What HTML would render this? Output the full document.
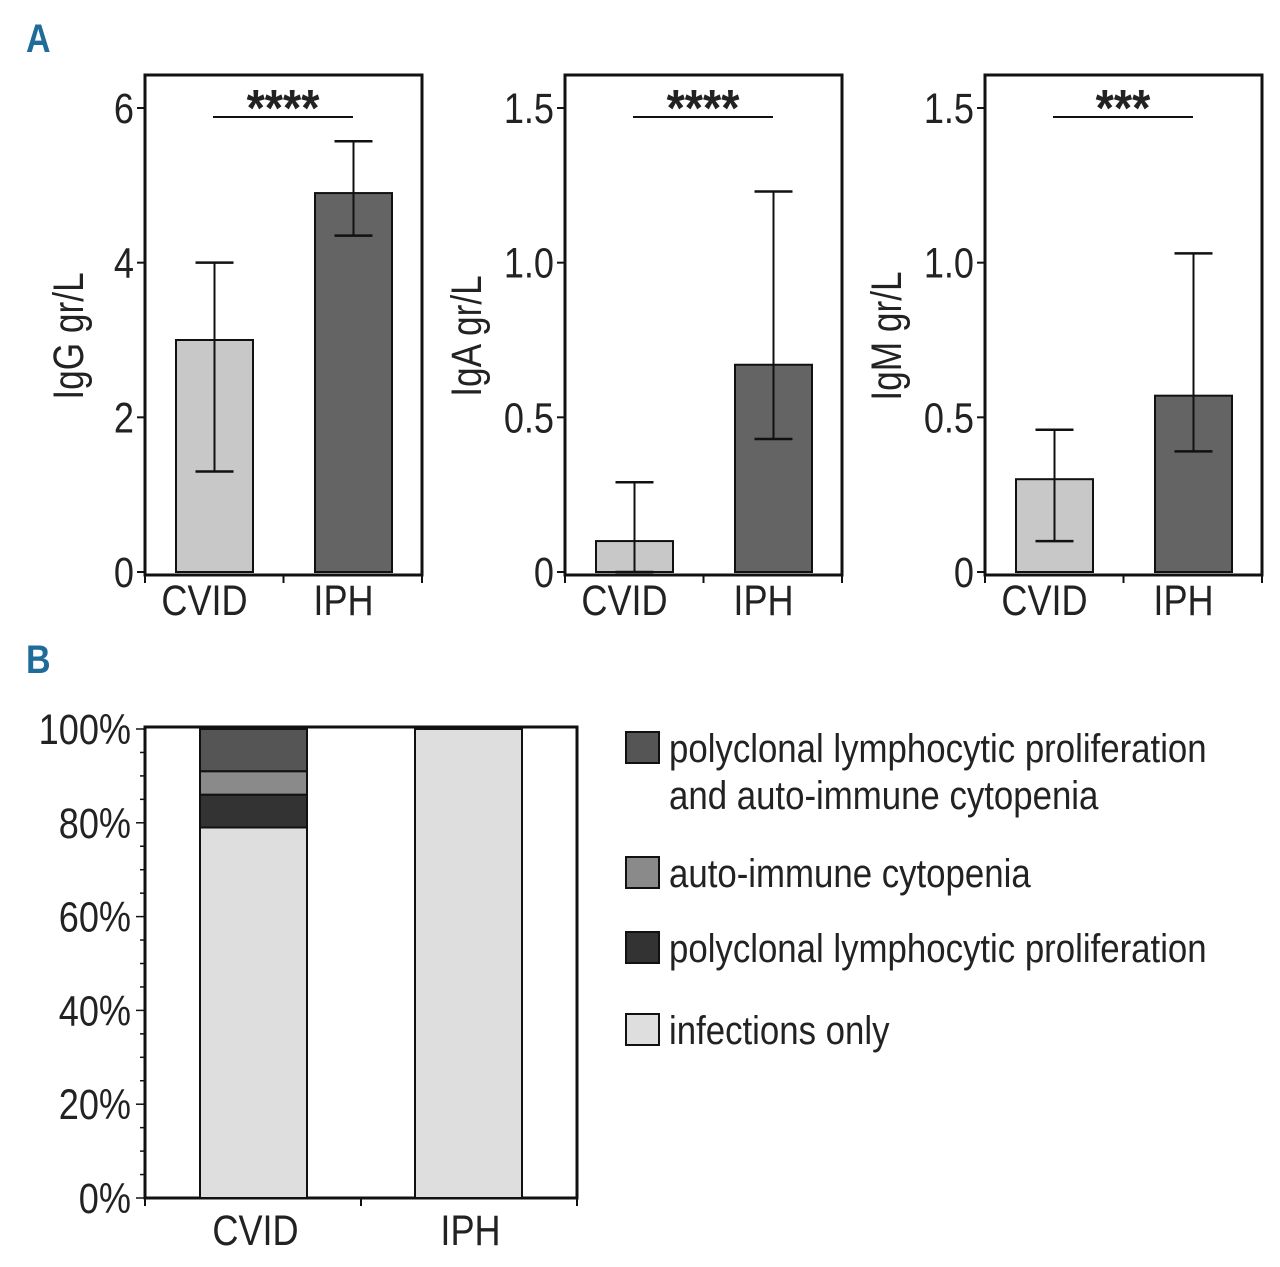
<!DOCTYPE html>
<html><head><meta charset="utf-8"><style>
body{margin:0;background:#fff}
svg text{font-family:"Liberation Sans",sans-serif;fill:#222}
</style></head><body>
<svg id="c" width="1280" height="1262" xmlns="http://www.w3.org/2000/svg">
<text transform="translate(26,52) scale(0.85,1)" font-size="40" font-weight="bold" style="fill:#1f6c9a">A</text>
<text transform="translate(26,673) scale(0.85,1)" font-size="40" font-weight="bold" style="fill:#1f6c9a">B</text>
</svg>
<script>
const groups = ["CVID","IPH"];
const iggVals = [3.0, 4.9], iggLo = [1.3, 4.35], iggHi = [4.0, 5.57];
const igaVals = [0.1, 0.67], igaLo = [0.0, 0.43], igaHi = [0.29, 1.23];
const igmVals = [0.3, 0.57], igmLo = [0.1, 0.39], igmHi = [0.46, 1.03];
const iggTicks = ["0","2","4","6"], iggTickVals=[0,2,4,6];
const igTicks = ["0","0.5","1.0","1.5"], igTickVals=[0,0.5,1.0,1.5];
const sigLabels = ["****","****","***"];
const stackCats = ["infections only","polyclonal lymphocytic proliferation","auto-immune cytopenia","polyclonal lymphocytic proliferation and auto-immune cytopenia"];
const cvidStack = [79, 7, 5, 9];
const iphStack = [100, 0, 0, 0];
const pctTicks = [0,20,40,60,80,100];

const svg=document.getElementById('c');
const NS="http://www.w3.org/2000/svg";
function mk(tag,attrs,parent){const e=document.createElementNS(NS,tag);for(const k in attrs)e.setAttribute(k,attrs[k]);(parent||svg).appendChild(e);return e;}
function txt(x,y,s,size,anchor,parent,rot,sx){
  const t=mk('text',{transform:`translate(${x},${y})${rot?' rotate(-90)':''} scale(${sx||0.84},1)`,'font-size':size,'text-anchor':anchor||'start'},parent);
  t.textContent=s;return t;
}

function panel(x0,name,ylabel,ymax,vals,lo,hi,tickLabels,tickVals,sig,titleOff){
  const g=mk('g',{});
  
  
  const x1=x0+277, yTop=75, y0=572, yMaxPx=108;
  const Y=v=>y0-(v/ymax)*(y0-yMaxPx);
  const box=mk('rect',{x:x0,y:yTop,width:x1-x0,height:575-yTop,fill:'none',stroke:'#111','stroke-width':3},g);
  
  
  tickVals.forEach((v,i)=>{
    mk('line',{x1:x0-8,x2:x0,y1:Y(v),y2:Y(v),stroke:'#111','stroke-width':2},g);
    const t=txt(x0-11,Y(v)+15,tickLabels[i],43,'end',g);
    
    
  });
  [x0,x0+(x1-x0)/2,x1].forEach(x=>mk('line',{x1:x,x2:x,y1:575,y2:583,stroke:'#111','stroke-width':2},g));
  const yl=txt(x0-titleOff,336,ylabel,43,'middle',g,true,0.82);
  
  
  const fills=['#c8c8c8','#646464'];
  vals.forEach((v,i)=>{
    const bx=x0+31+i*139, bw=77, cx=bx+bw/2;
    const r=mk('rect',{x:bx,y:Y(v),width:bw,height:y0-Y(v),fill:fills[i],stroke:'#111','stroke-width':2},g);
    
    
    mk('line',{x1:cx,x2:cx,y1:Y(hi[i]),y2:Y(lo[i]),stroke:'#111','stroke-width':2},g);
    mk('line',{x1:cx-19,x2:cx+19,y1:Y(hi[i]),y2:Y(hi[i]),stroke:'#111','stroke-width':2.5},g);
    mk('line',{x1:cx-19,x2:cx+19,y1:Y(lo[i]),y2:Y(lo[i]),stroke:'#111','stroke-width':2.5},g);
    const t=txt(cx-10,615,groups[i],43,'middle',g);
    
    
  });
  mk('line',{x1:x0+68,x2:x0+208,y1:117,y2:117,stroke:'#111','stroke-width':2},g);
  const s=txt(x0+138,126,sig,52,'middle',g,false,0.9);
  s.setAttribute('font-weight','bold');
  
  
}
panel(145,'igg-chart','IgG gr/L',6,iggVals,iggLo,iggHi,iggTicks,iggTickVals,sigLabels[0],62);
panel(565,'iga-chart','IgA gr/L',1.5,igaVals,igaLo,igaHi,igTicks,igTickVals,sigLabels[1],84);
panel(985,'igm-chart','IgM gr/L',1.5,igmVals,igmLo,igmHi,igTicks,igTickVals,sigLabels[2],84);

// Panel B
const gb=mk('g',{});


const bx0=145,bx1=577,by0=1198,by1=729;
const YP=p=>by0-(p/100)*(by0-by1);
mk('rect',{x:bx0,y:727,width:bx1-bx0,height:by0-727,fill:'none',stroke:'#111','stroke-width':3},gb);
for(let p=0;p<=100;p+=5){const len=p%20===0?9:5;mk('line',{x1:bx0-len,x2:bx0,y1:YP(p),y2:YP(p),stroke:'#111','stroke-width':1.5},gb);}
pctTicks.forEach(p=>{
  const t=txt(bx0-14,YP(p)+15,p+'%',43,'end',gb);
  
  
});
[bx0,(bx0+bx1)/2,bx1].forEach(x=>mk('line',{x1:x,x2:x,y1:1198,y2:1206,stroke:'#111','stroke-width':2},gb));
const segFills=['#dedede','#333333','#8a8a8a','#555555'];
[cvidStack,iphStack].forEach((stack,i)=>{
  const x=200+i*215,w=107;let acc=0;
  stack.forEach((v,j)=>{
    if(v<=0)return;
    const r=mk('rect',{x:x,y:YP(acc+v),width:w,height:YP(acc)-YP(acc+v),fill:segFills[j],stroke:'#111','stroke-width':2},gb);
    
    
    acc+=v;
  });
  const t=txt(x+w/2+2,1245,groups[i],43,'middle',gb);
  
  
});
// legend
const legY=[1030,948,873,748];
const legLines=[["infections only"],["polyclonal lymphocytic proliferation"],["auto-immune cytopenia"],["polyclonal lymphocytic proliferation","and auto-immune cytopenia"]];
stackCats.forEach((c,j)=>{
  const lg=mk('g',{});
  
  
  mk('rect',{x:626,y:legY[j]-16,width:33,height:31,fill:segFills[j],stroke:'#111','stroke-width':2},lg);
  legLines[j].forEach((ln,k)=>{
    txt(669,legY[j]+14+k*47,ln,40,'start',lg,false,0.87);
  });
});
</script>
</body></html>
